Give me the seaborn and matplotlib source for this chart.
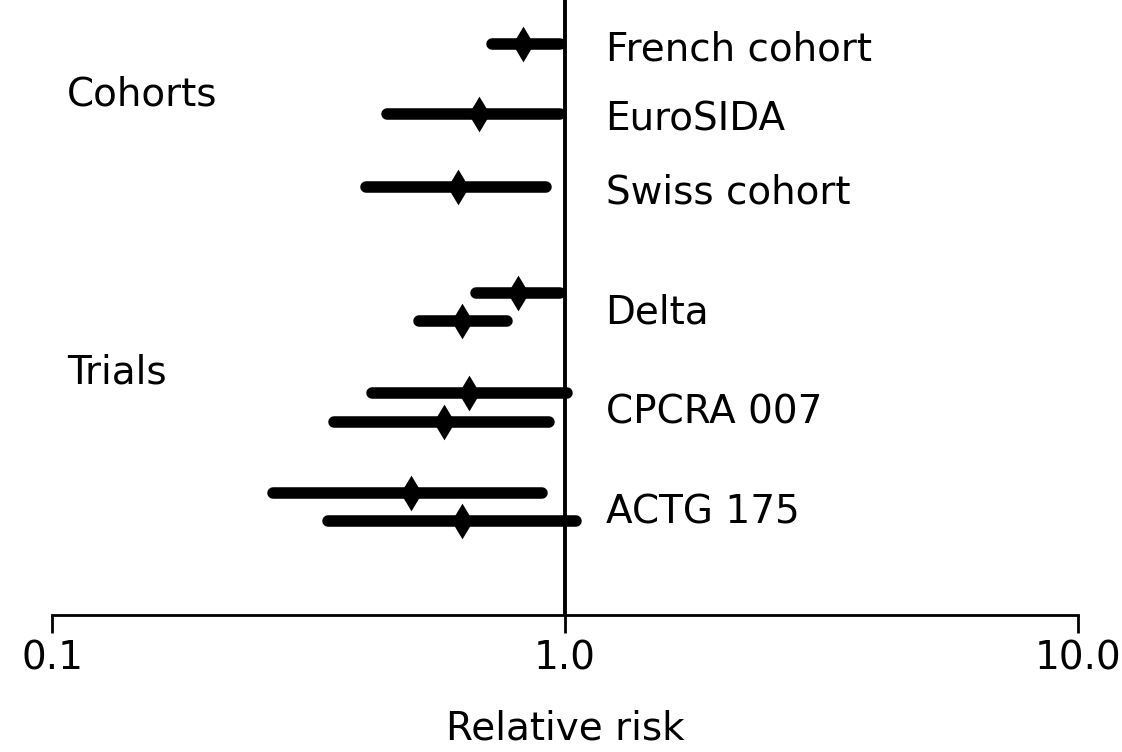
import numpy as np
import pandas as pd
import matplotlib
matplotlib.use("Agg")
import matplotlib.pyplot as plt
import seaborn as sns

# ---- data ----
studies = ["French cohort", "EuroSIDA", "Swiss cohort",
           "Delta", "Delta", "CPCRA 007", "CPCRA 007", "ACTG 175", "ACTG 175"]
groups = ["Cohorts", "Cohorts", "Cohorts",
          "Trials", "Trials", "Trials", "Trials", "Trials", "Trials"]
rr = [0.83, 0.68, 0.62, 0.81, 0.63, 0.65, 0.58, 0.50, 0.63]
ci_low = [0.72, 0.45, 0.41, 0.67, 0.52, 0.42, 0.355, 0.27, 0.345]
ci_high = [0.98, 0.98, 0.92, 0.98, 0.77, 1.01, 0.93, 0.90, 1.05]
row_pos = [0, 1.97, 4.03, 7.01, 7.8, 9.83, 10.65, 12.65, 13.44]
tick_values = [0.1, 1.0, 10.0]
tick_labels = ["0.1", "1.0", "10.0"]

df = pd.DataFrame({"study": studies, "group": groups, "rr": rr,
                   "lo": ci_low, "hi": ci_high, "pos": row_pos})

sns.set_theme(style="white")
plt.rcParams["font.family"] = ["DejaVu Sans"]
plt.rcParams["text.color"] = "black"
plt.rcParams["xtick.color"] = "black"
plt.rcParams["axes.labelcolor"] = "black"
FS = 28

fig = plt.figure(figsize=(11.22, 7.52), dpi=100)
ax = fig.add_axes([52 / 1122, 1 - 615 / 752, (1078 - 52) / 1122, 615 / 752])

# confidence intervals
ax.hlines(df["pos"], df["lo"], df["hi"], color="black", lw=8.3,
          capstyle="round", zorder=2)
# point estimates
sns.scatterplot(data=df, x="rr", y="pos", marker="d", s=330, color="black",
                edgecolor="black", linewidth=0, ax=ax, zorder=3, legend=False)

ax.set_xscale("log")
ax.set_xlim(0.1, 10)
ax.set_ylim(16.08, -1.24)

# reference line at RR = 1
ax.axvline(1.0, color="black", lw=2.8, zorder=1)

# study labels
for name, sub in df.groupby("study", sort=False):
    ax.text(1.2, sub["pos"].mean() + 0.03, name, fontsize=FS,
            va="center_baseline", ha="left", color="black")

# group labels
group_text_pos = {"Cohorts": 1.3, "Trials": 9.13}
for g, p in group_text_pos.items():
    ax.text(0.107, p, g, fontsize=FS, va="center_baseline", ha="left",
            color="black")

# axes styling
for s in ["top", "right", "left"]:
    ax.spines[s].set_visible(False)
ax.spines["bottom"].set_linewidth(2.0)
ax.spines["bottom"].set_color("black")
ax.set_yticks([])
ax.xaxis.set_major_locator(matplotlib.ticker.FixedLocator(tick_values))
ax.xaxis.set_minor_locator(matplotlib.ticker.NullLocator())
ax.set_xticklabels(tick_labels)
ax.tick_params(axis="x", which="major", direction="out", length=13, width=2.0,
               color="black", labelcolor="black", labelsize=FS, pad=5,
               bottom=True)
ax.set_xlabel("Relative risk", fontsize=FS, labelpad=23, color="black")
ax.set_ylabel("")
ax.grid(False)

fig.savefig("out.png", dpi=100)
